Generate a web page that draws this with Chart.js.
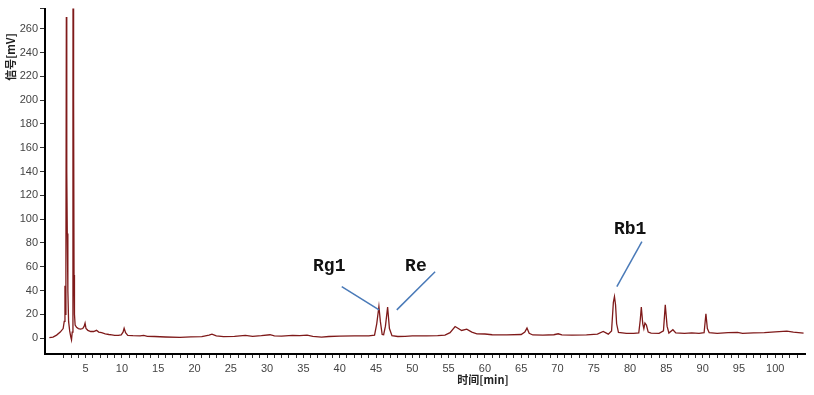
<!DOCTYPE html>
<html>
<head>
<meta charset="utf-8">
<script src="https://cdn.jsdelivr.net/npm/chart.js@4"></script>
<style>
html,body{margin:0;padding:0;background:#fff;}
#wrap{width:814px;height:395px;position:relative;}
</style>
</head>
<body>
<div id="wrap"><canvas id="c"></canvas></div>
<script>
// Retention time (min)
const times = [0.0,0.5,1.0,1.5,1.9,2.05,2.15,2.2,2.28,2.34,2.4,2.47,2.55,2.65,2.8,2.95,3.05,3.15,3.25,3.29,3.34,3.4,3.46,3.55,3.75,4.0,4.3,4.6,4.8,4.92,5.05,5.3,5.7,6.1,6.5,6.8,7.2,7.7,8.2,8.6,9.0,9.5,9.9,10.15,10.3,10.5,10.8,11.5,12.5,13.0,13.5,14.5,16,18,19.5,21,22,22.4,23,24,25.5,27,28,29.2,30.4,31,32,33.5,34.5,35.5,36.3,37.5,38.5,40,42,44,44.8,45.1,45.4,45.6,45.85,46.05,46.3,46.6,46.85,47.2,48,49,50,52,53.5,54.5,55.2,55.9,56.8,57.5,58.2,58.9,60,61,63,65,65.5,65.8,66.1,66.6,68,69.5,70.1,70.6,72,74,75.5,76.3,77.0,77.45,77.7,77.85,78.0,78.15,78.4,79.5,80.5,81.2,81.4,81.55,81.75,81.9,82.05,82.25,82.5,82.9,84,84.6,84.85,85.1,85.35,85.9,86.3,87.5,88.5,89.5,90.2,90.45,90.65,90.9,92,93.5,94.8,95.5,97,98.5,100,101.6,102.5,103.9];
// Detector signal (mV)
const signal = [0.3,0.8,2.5,5.0,8.0,14,44,20,60,270,140,88,40,14,6,1,-1.5,5,200,600,200,53,20,11,9,8,7.5,8,10,12.6,8,6.5,5.5,5.5,6.5,5,4.5,3.6,3,2.6,2.2,2.2,2.6,5,8.2,4.5,2.3,2,1.8,2.2,1.5,1.3,0.9,0.5,1,1.2,2.5,3.3,1.8,1.2,1.5,2.2,1.5,2.0,2.8,1.8,1.6,2.3,2,2.4,1.5,0.8,1.3,1.6,1.8,1.9,2.5,12,26.5,14,3,2.8,10,26,8,2,1.3,1.5,1.8,1.9,2,2.5,4.5,9.7,6.4,7.5,5,3.6,3.4,2.8,2.7,3,5,8.4,4,2.6,2.5,2.8,3.6,2.6,2.4,2.6,3.3,5.5,3.3,6,30,34.9,28,12,4.7,4,4,4.3,15,26,12,8,12.6,11,5,4.2,4,6,27.9,10,4.2,7,4.3,3.9,4.3,4,4.5,20.4,8,4.5,4,4.5,4.8,4,4.3,4.5,5.2,5.9,5,4.2];
// Peak labels
const peakNames = ['Rg1','Re','Rb1'];
// Axis titles
const xTitle = '时间[min]';
const yTitle = '信号[mV]';

// annotation geometry in data units (text anchor, leader line start/end)
const annoGeom = [
  {tx:38.56, ty:56.7, x1:40.28, y1:43.3, x2:45.42, y2:23.7},
  {tx:50.5,  ty:56.7, x1:53.14, y1:55.8, x2:47.86, y2:23.7},
  {tx:80.02, ty:87.2, x1:81.63, y1:81.0, x2:78.18, y2:43.3}
];

const overlay = {
  id:'overlay',
  afterDraw(chart){
    const ctx = chart.ctx, xs = chart.scales.x, ys = chart.scales.y;
    ctx.save();
    ctx.strokeStyle = '#4a7ab8';
    ctx.lineWidth = 1.5;
    annoGeom.forEach(g=>{
      ctx.beginPath();
      ctx.moveTo(xs.getPixelForValue(g.x1), ys.getPixelForValue(g.y1));
      ctx.lineTo(xs.getPixelForValue(g.x2), ys.getPixelForValue(g.y2));
      ctx.stroke();
    });
    ctx.fillStyle = '#111';
    ctx.font = 'bold 18px "Liberation Mono", monospace';
    ctx.textAlign = 'center';
    ctx.textBaseline = 'alphabetic';
    annoGeom.forEach((g,i)=>{
      ctx.fillText(peakNames[i], xs.getPixelForValue(g.tx), ys.getPixelForValue(g.ty));
    });
    ctx.fillStyle = '#222';
    ctx.font = 'bold 11px "Noto Sans CJK SC", "Liberation Sans", sans-serif';
    ctx.textAlign = 'center';
    ctx.textBaseline = 'middle';
    ctx.fillText(xTitle, 483, 380);
    ctx.translate(11, 57);
    ctx.rotate(-Math.PI/2);
    ctx.fillText(yTitle, 0, 0);
    ctx.restore();
  }
};

const tickCol = c => {
  const v = c.tick ? c.tick.value : 0;
  return (v < 0 || Math.abs(v - Math.round(v)) > 1e-6) ? 'rgba(0,0,0,0)' : '#333';
};

new Chart(document.getElementById('c'), {
  type:'line',
  data:{
    datasets:[{
      data: times.map((t,i)=>({x:t, y:signal[i]})),
      borderColor:'#7f1a1a',
      borderWidth:1.3,
      pointRadius:0,
      tension:0,
      fill:false
    }]
  },
  options:{
    responsive:true,
    maintainAspectRatio:false,
    animation:false,
    layout:{padding:{top:8,right:9,left:0,bottom:0}},
    plugins:{legend:{display:false},tooltip:{enabled:false}},
    scales:{
      x:{
        type:'linear',
        min:-0.6, max:104.1,
        afterFit(s){ s.height = 41; },
        border:{display:true,color:'#000',width:2},
        grid:{drawOnChartArea:false,drawTicks:true,tickLength:4,
          color:c=>{ const v=c.tick?c.tick.value:0; return (v<2||Math.abs(v-Math.round(v))>1e-6)?'rgba(0,0,0,0)':'#333'; }},
        ticks:{stepSize:1,maxTicksLimit:1000,autoSkip:false,maxRotation:0,padding:4,
          color:'#444',font:{family:'"Liberation Sans", Arial, sans-serif',size:11},
          callback:v=> (v>0 && Math.abs(v%5)<1e-6) ? String(Math.round(v)) : ''}
      },
      y:{
        type:'linear',
        min:-13.4, max:277,
        afterFit(s){ s.width = 45; },
        border:{display:true,color:'#000',width:2},
        grid:{drawOnChartArea:false,drawTicks:true,tickLength:5,color:tickCol},
        ticks:{stepSize:20,maxTicksLimit:1000,autoSkip:false,padding:2,
          color:'#444',font:{family:'"Liberation Sans", Arial, sans-serif',size:11},
          callback:v=> (v>=0 && Math.abs(v%20)<1e-6) ? String(Math.round(v)) : ''}
      }
    }
  },
  plugins:[overlay]
});
</script>
</body>
</html>
